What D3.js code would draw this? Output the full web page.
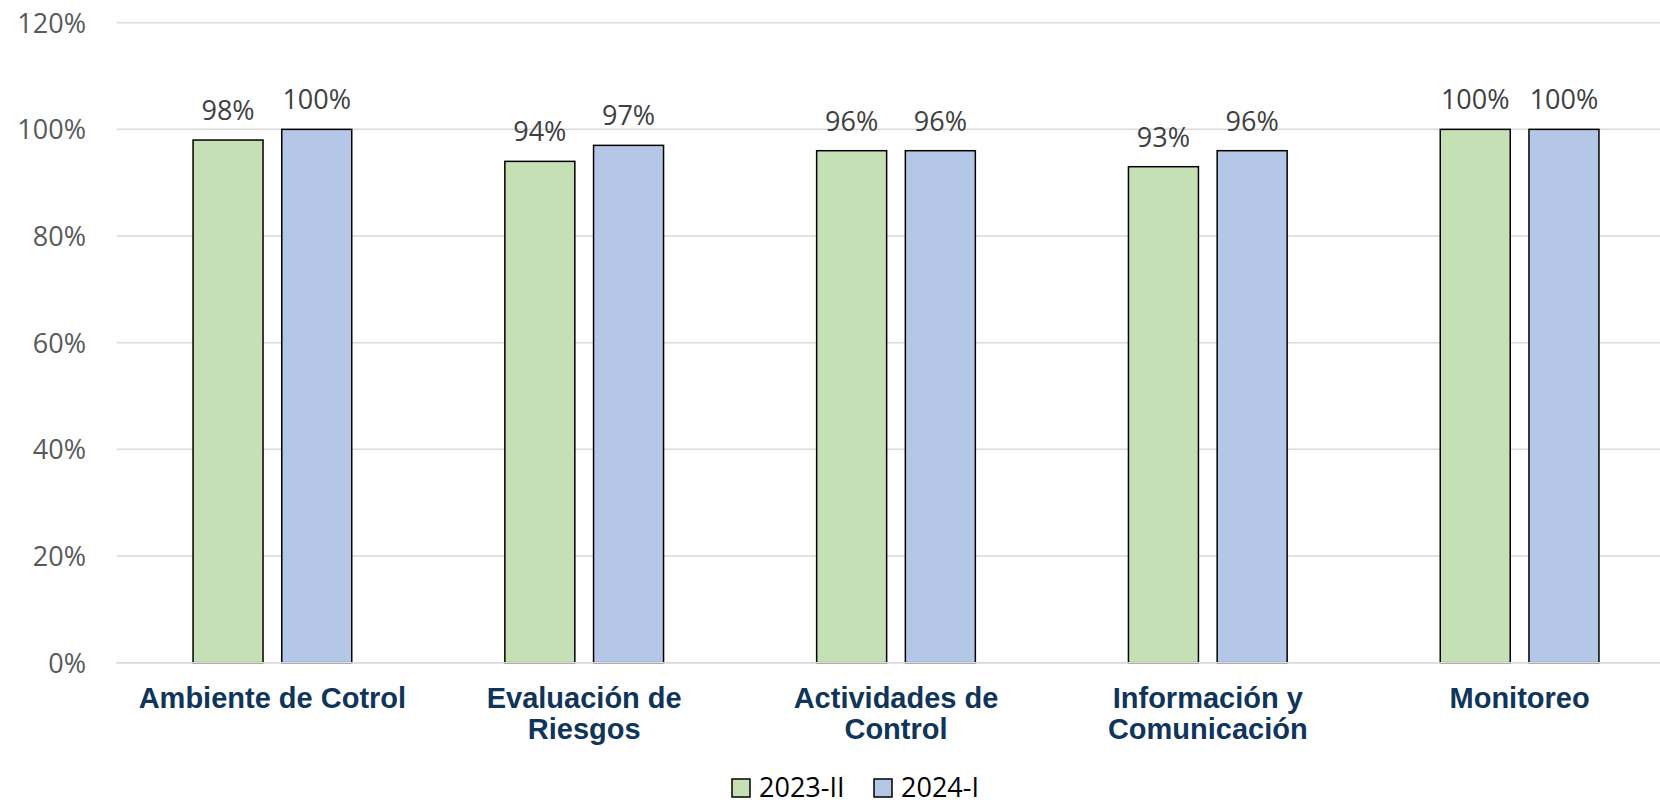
<!DOCTYPE html>
<html>
<head>
<meta charset="utf-8">
<script src="https://cdn.jsdelivr.net/npm/d3@7"></script>
<style>
  html, body { margin: 0; padding: 0; background: #fff; }
  svg { display: block; }
</style>
</head>
<body>
<svg id="chart" width="1660" height="804"></svg>
<script>
const categories = [["Ambiente de Cotrol"], ["Evaluación de", "Riesgos"], ["Actividades de", "Control"], ["Información y", "Comunicación"], ["Monitoreo"]];
const categoryKeys = ["Ambiente de Cotrol", "Evaluación de Riesgos", "Actividades de Control", "Información y Comunicación", "Monitoreo"];
const seriesNames = ["2023-II", "2024-I"];
const values2023II = [0.98, 0.94, 0.96, 0.93, 1.00];
const values2024I = [1.00, 0.97, 0.96, 0.96, 1.00];
const seriesColors = ["#c5e0b4", "#b4c7e7"];
const yTicks = [0, 0.2, 0.4, 0.6, 0.8, 1.0, 1.2];

const seriesValues = [values2023II, values2024I];
const svg = d3.select("#chart");
const W = 1660;

const x = d3.scaleBand().domain(categoryKeys).range([116.5, 1675.5]).paddingInner(0).paddingOuter(0);
const xs = d3.scaleBand().domain(seriesNames).range([-79.35, 79.35]).paddingInner(0.211).paddingOuter(0);
const y = d3.scaleLinear().domain([0, 1.2]).range([662.7, 22.7]);

// gridlines
svg.append("g").selectAll("line").data(yTicks).join("line")
  .attr("x1", 116.5).attr("x2", W)
  .attr("y1", d => y(d)).attr("y2", d => y(d))
  .attr("stroke", "#d9d9d9").attr("stroke-width", 1.5);

// y axis labels
const yAxis = d3.axisLeft(y).tickValues(yTicks).tickFormat(d3.format(".0%")).tickSize(0).tickPadding(0);
const yg = svg.append("g").attr("transform", "translate(86,0)").call(yAxis);
yg.select(".domain").remove();
yg.selectAll("text")
  .attr("font-family", "'Open Sans', sans-serif")
  .attr("font-size", 27)
  .attr("fill", "#595959")
  .attr("dy", "0.35em");

// bars
const groups = svg.append("g").selectAll("g").data(categoryKeys).join("g")
  .attr("transform", d => `translate(${x(d) + x.bandwidth() / 2},0)`);

groups.each(function (cat, ci) {
  const g = d3.select(this);
  seriesNames.forEach((s, si) => {
    const v = seriesValues[si][ci];
    g.append("rect")
      .attr("x", xs(s))
      .attr("width", xs.bandwidth())
      .attr("y", y(v))
      .attr("height", y(0) - y(v))
      .attr("fill", seriesColors[si])
      .attr("stroke", "#000")
      .attr("stroke-width", 1.5);
    g.append("text")
      .attr("x", xs(s) + xs.bandwidth() / 2)
      .attr("y", y(v) - 20)
      .attr("text-anchor", "middle")
      .attr("font-family", "'Open Sans', sans-serif")
      .attr("font-size", 27)
      .attr("fill", "#404040")
      .text(d3.format(".0%")(v));
  });
});

// axis base line
svg.append("line").attr("x1", 116.5).attr("x2", W).attr("y1", y(0)).attr("y2", y(0))
  .attr("stroke", "#d9d9d9").attr("stroke-width", 1.5);

// category labels
groups.append("text")
  .attr("text-anchor", "middle")
  .attr("font-family", "'Liberation Sans', Arial, sans-serif")
  .attr("font-weight", "bold")
  .attr("font-size", 29)
  .attr("fill", "#10355a")
  .each(function (d, i) {
    const t = d3.select(this);
    categories[i].forEach((line, li) => {
      t.append("tspan").attr("x", 0).attr("y", 708 + li * 31).text(line);
    });
  });

// legend
const legendX = [732, 874];
const legend = svg.append("g").selectAll("g").data(seriesNames).join("g")
  .attr("transform", (d, i) => `translate(${legendX[i]},0)`);
legend.append("rect")
  .attr("x", 0).attr("y", 779).attr("width", 18).attr("height", 18)
  .attr("fill", (d, i) => seriesColors[i])
  .attr("stroke", "#000").attr("stroke-width", 1.5);
legend.append("text")
  .attr("x", 27).attr("y", 797)
  .attr("font-family", "'Open Sans', sans-serif")
  .attr("font-size", 27)
  .attr("fill", "#000")
  .text(d => d);
</script>
</body>
</html>
